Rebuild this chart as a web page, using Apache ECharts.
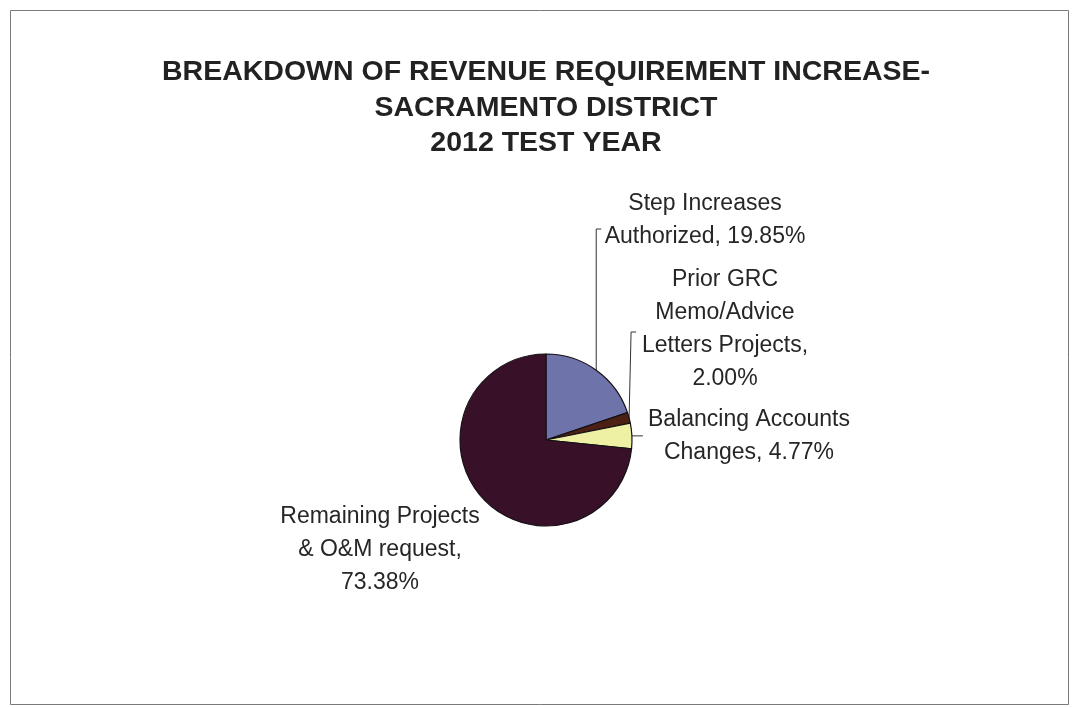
<!DOCTYPE html>
<html><head><meta charset="utf-8">
<script src="https://cdn.jsdelivr.net/npm/echarts@6/dist/echarts.min.js"></script>
<style>html,body{margin:0;padding:0;background:#fff}#c{width:1074px;height:708px}</style>
</head><body><div id="c"></div>
<script>
const titleLines = ['BREAKDOWN OF REVENUE REQUIREMENT INCREASE-', 'SACRAMENTO DISTRICT', '2012 TEST YEAR'];
const categories = ['Step Increases\nAuthorized', 'Prior GRC\nMemo/Advice\nLetters Projects', 'Balancing Accounts\nChanges', 'Remaining Projects\n& O&M request'];
const values = [19.85, 2.00, 4.77, 73.38];
const colors = ['#6e73aa', '#4c2114', '#eef0a4', '#381027'];

// label anchor (centre of the text block) for each slice
const labelAnchors = [[705, 220], [725, 329], [749, 436], [380, 550]];

const chart = echarts.init(document.getElementById('c'));
chart.setOption({
  animation: false,
  backgroundColor: '#fff',
  graphic: [{
    type: 'rect', silent: true,
    shape: { x: 10.5, y: 10.5, width: 1058, height: 694 },
    style: { fill: 'none', stroke: '#7a7a7a', lineWidth: 1 }
  }, {
    type: 'text', silent: true,
    x: 546, y: 108,
    style: {
      text: titleLines.join('\n'),
      align: 'center', verticalAlign: 'middle',
      font: 'bold 28.5px "Liberation Sans"',
      lineHeight: 35.5,
      fill: '#222'
    }
  }],
  series: [{
    type: 'pie',
    center: [546, 440],
    radius: 86,
    startAngle: 90,
    clockwise: true,
    silent: true,
    itemStyle: { borderColor: '#151015', borderWidth: 1.2 },
    label: {
      show: true,
      position: 'outside',
      fontFamily: 'Liberation Sans',
      fontSize: 23,
      lineHeight: 33,
      color: '#262626',
      align: 'center',
      formatter: p => p.name + ', ' + p.value.toFixed(2) + '%'
    },
    labelLine: { show: true, smooth: false, length: 10, length2: 10, lineStyle: { color: '#333', width: 1 } },
    labelLayout: function (p) {
      const a = labelAnchors[p.dataIndex];
      const res = { x: a[0], y: a[1], align: 'center', verticalAlign: 'middle' };
      const p0 = p.labelLinePoints ? p.labelLinePoints[0] : null;
      if (p0) {
        if (p.dataIndex === 0) {
          res.labelLinePoints = [p0, [p0[0], 229], [p0[0] + 5, 229]];
        } else if (p.dataIndex === 1) {
          res.labelLinePoints = [p0, [p0[0] + 2, 332], [p0[0] + 7, 332]];
        } else if (p.dataIndex === 2) {
          res.labelLinePoints = [p0, [p0[0] + 5, p0[1]], [p0[0] + 11, p0[1]]];
        }
      }
      return res;
    },
    data: categories.map((n, i) => ({
      name: n,
      value: values[i],
      itemStyle: { color: colors[i] },
      labelLine: { show: i !== 3 },
      label: (i === 1 || i === 3) ? { formatter: p => p.name + ',\n' + p.value.toFixed(2) + '%' } : {}
    }))
  }]
});
</script></body></html>
